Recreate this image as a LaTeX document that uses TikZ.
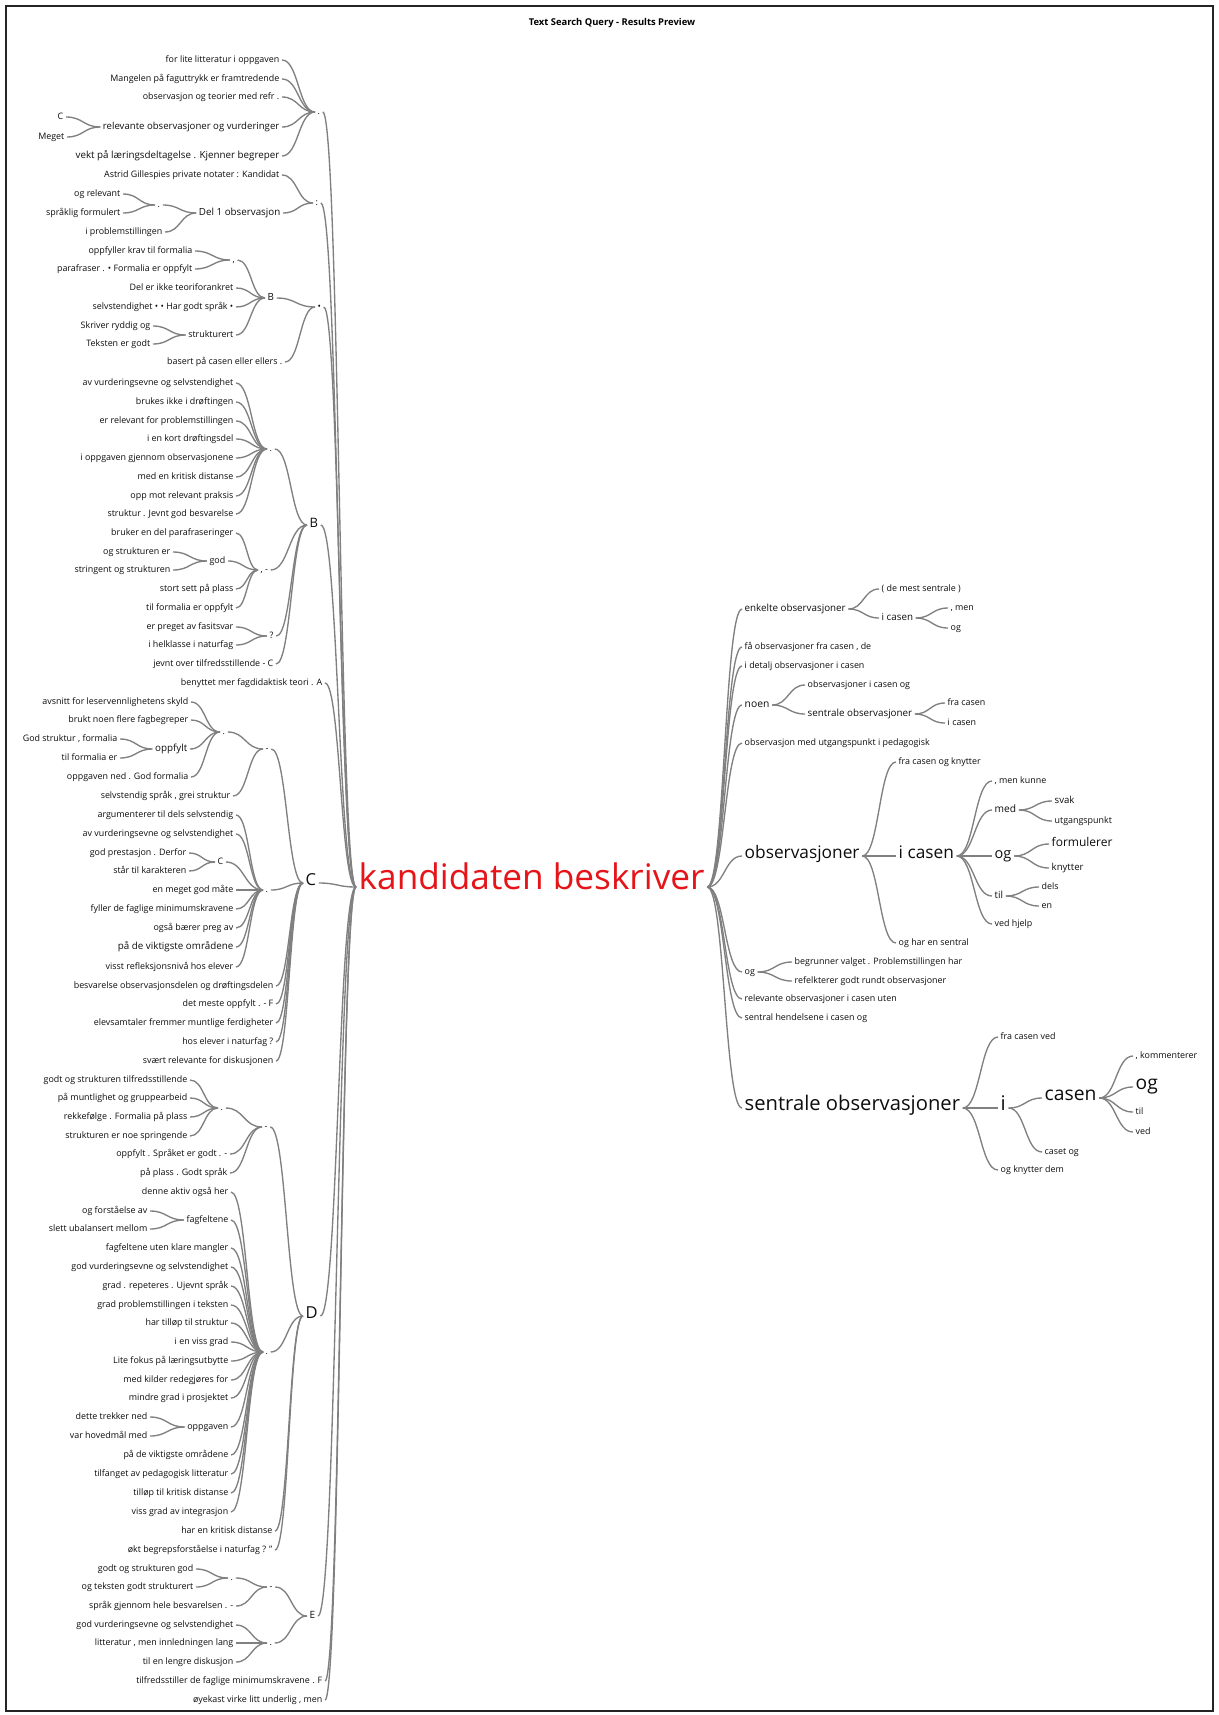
\documentclass[tikz,border=0pt]{standalone}
\usepackage{fontspec}
\setmainfont{Open Sans}
\usepackage{tikz}
\usetikzlibrary{calc}
\definecolor{ink}{rgb}{0.05, 0.05, 0.05}
\definecolor{lgray}{rgb}{0.5, 0.5, 0.5}
\definecolor{kred}{rgb}{0.9, 0.08, 0.1}
\tikzset{leftword/.style = {anchor = mid east, inner xsep = 2.5pt, inner ysep = 1pt, text = ink,
    font = \fontsize{8.9}{10}\selectfont}}
\tikzset{rightword/.style = {anchor = mid west, inner xsep = 2.5pt, inner ysep = 1pt, text = ink,
    font = \fontsize{8.9}{10}\selectfont}}
\tikzset{sz/.style = {font = \fontsize{#1}{#1}\selectfont}}
\tikzset{branch/.style = {draw = lgray, line width = 1.35pt}}
\newcommand{\wlink}[2]{\draw [branch] let \p1 = (#1.mid east), \p2 = (#2.mid west),
  \p3 = ($(\p1)!0.5!(\p2)$) in (\p1) .. controls (\x3, \y1) and (\x3, \y2) .. (\p2);}

\begin{document}
\begin{tikzpicture}[x = 1pt, y = -1pt]
    \useasboundingbox (0, 0) rectangle (1218, 1715);
    \draw [line width = 1.3pt, draw = ink!90] (6, 6) rectangle (1213, 1711);
    \node [font = \bfseries\fontsize{9.4}{10}\selectfont] (title) at (612, 23) {Text Search Query - Results Preview};

    \node [rightword, sz = 35.2, text = kred] (root) at (356, 887) {kandidaten beskriver};

    % left: "." group
    \node [rightword] (p) at (315, 112) {.};
    \node [leftword] (p1) at (282, 60) {for lite litteratur i oppgaven};
    \node [leftword] (p2) at (282, 79) {Mangelen på faguttrykk er framtredende};
    \node [leftword] (p3) at (282, 97) {observasjon og teorier med refr .};
    \node [leftword, sz = 9.6] (p4) at (282, 127) {relevante observasjoner og vurderinger};
    \node [leftword, sz = 9.8] (p5) at (282, 156) {vekt på læringsdeltagelse . Kjenner begreper};
    \node [leftword] (p4a) at (66, 117) {C};
    \node [leftword] (p4b) at (67, 137) {Meget};

    % left: ":" group
    \node [rightword] (q) at (313, 203) {:};
    \node [leftword] (q1) at (282, 175) {Astrid Gillespies private notater : Kandidat};
    \node [leftword, sz = 9.8] (q2) at (283, 213) {Del 1 observasjon};
    \node [rightword] (q2a) at (155, 205) {.};
    \node [leftword] (q2a1) at (123, 194) {og relevant};
    \node [leftword] (q2a2) at (123, 213) {språklig formulert};
    \node [leftword] (q2b) at (165, 232) {i problemstillingen};

    % left: bullet group
    \node [rightword] (s) at (315, 307) {•};
    \node [rightword, sz = 9.8] (s1) at (265, 298) {B};
    \node [rightword] (s1a) at (230, 260) {,};
    \node [leftword] (s1a1) at (195, 251) {oppfyller krav til formalia};
    \node [leftword] (s1a2) at (195, 269) {parafraser . • Formalia er oppfylt};
    \node [leftword] (s1b) at (236, 288) {Del er ikke teoriforankret};
    \node [leftword] (s1c) at (236, 307) {selvstendighet • • Har godt språk •};
    \node [leftword] (s1d) at (236, 335) {strukturert};
    \node [leftword] (s1d1) at (153, 326) {Skriver ryddig og};
    \node [leftword] (s1d2) at (153, 344) {Teksten er godt};
    \node [leftword] (s2) at (285, 362) {basert på casen eller ellers .};

    % left: B group
    \node [rightword, sz = 13] (b) at (307, 525) {B};
    \node [rightword] (b1) at (267, 449) {.};
    \node [leftword] (b1a) at (236, 383) {av vurderingsevne og selvstendighet};
    \node [leftword] (b1b) at (236, 402) {brukes ikke i drøftingen};
    \node [leftword] (b1c) at (236, 421) {er relevant for problemstillingen};
    \node [leftword] (b1d) at (236, 439) {i en kort drøftingsdel};
    \node [leftword] (b1e) at (236, 458) {i oppgaven gjennom observasjonene};
    \node [leftword] (b1f) at (236, 477) {med en kritisk distanse};
    \node [leftword] (b1g) at (236, 496) {opp mot relevant praksis};
    \node [leftword] (b1h) at (236, 514) {struktur . Jevnt god besvarelse};
    \node [rightword] (b2) at (258, 570) {, -};
    \node [leftword] (b2a) at (236, 533) {bruker en del parafraseringer};
    \node [leftword] (b2b) at (228, 561) {god};
    \node [leftword] (b2b1) at (173, 552) {og strukturen er};
    \node [leftword] (b2b2) at (173, 570) {stringent og strukturen};
    \node [leftword] (b2c) at (236, 589) {stort sett på plass};
    \node [leftword] (b2d) at (236, 608) {til formalia er oppfylt};
    \node [rightword] (b3) at (267, 636) {?};
    \node [leftword] (b3a) at (236, 627) {er preget av fasitsvar};
    \node [leftword] (b3b) at (236, 645) {i helklasse i naturfag};
    \node [leftword] (b4) at (276, 664) {jevnt over tilfredsstillende - C};

    \node [leftword] (a) at (325, 683) {benyttet mer fagdidaktisk teori . A};

    % left: C group
    \node [rightword, sz = 16.5] (c) at (303, 883) {C};
    \node [rightword] (c1) at (263, 749) {-};
    \node [rightword] (c1a) at (220, 732) {.};
    \node [leftword] (c1a1) at (191, 702) {avsnitt for leservennlighetens skyld};
    \node [leftword] (c1a2) at (191, 720) {brukt noen flere fagbegreper};
    \node [leftword, sz = 9.8] (c1a3) at (190, 749) {oppfylt};
    \node [leftword] (c1a3a) at (120, 739) {God struktur , formalia};
    \node [leftword] (c1a3b) at (120, 758) {til formalia er};
    \node [leftword] (c1a4) at (191, 777) {oppgaven ned . God formalia};
    \node [leftword] (c1b) at (233, 796) {selvstendig språk , grei struktur};
    \node [rightword] (c2) at (263, 890) {.};
    \node [leftword] (c2a) at (236, 815) {argumenterer til dels selvstendig};
    \node [leftword] (c2b) at (236, 834) {av vurderingsevne og selvstendighet};
    \node [rightword] (c2c) at (215, 862) {C};
    \node [leftword] (c2c1) at (189, 853) {god prestasjon . Derfor};
    \node [leftword] (c2c2) at (189, 871) {står til karakteren};
    \node [leftword] (c2d) at (236, 890) {en meget god måte};
    \node [leftword] (c2e) at (236, 909) {fyller de faglige minimumskravene};
    \node [leftword] (c2f) at (236, 928) {også bærer preg av};
    \node [leftword, sz = 9.8] (c2g) at (236, 947) {på de viktigste områdene};
    \node [leftword] (c2h) at (236, 967) {visst refleksjonsnivå hos elever};
    \node [leftword] (c3) at (276, 986) {besvarelse observasjonsdelen og drøftingsdelen};
    \node [leftword] (c4) at (276, 1004) {det meste oppfylt . - F};
    \node [leftword] (c5) at (276, 1023) {elevsamtaler fremmer muntlige ferdigheter};
    \node [leftword] (c6) at (276, 1042) {hos elever i naturfag ?};
    \node [leftword] (c7) at (276, 1061) {svært relevante for diskusjonen};

    % left: D group
    \node [rightword, sz = 16.5] (d) at (303, 1316) {D};
    \node [rightword] (d1) at (262, 1127) {-};
    \node [rightword] (d1a) at (218, 1108) {.};
    \node [leftword] (d1a1) at (190, 1080) {godt og strukturen tilfredsstillende};
    \node [leftword] (d1a2) at (190, 1098) {på muntlighet og gruppearbeid};
    \node [leftword] (d1a3) at (190, 1117) {rekkefølge . Formalia på plass};
    \node [leftword] (d1a4) at (190, 1136) {strukturen er noe springende};
    \node [leftword] (d1b) at (230, 1154) {oppfylt . Språket er godt . -};
    \node [leftword] (d1c) at (230, 1173) {på plass . Godt språk};
    \node [rightword] (d2) at (263, 1352) {.};
    \node [leftword] (d2a) at (231, 1192) {denne aktiv også her};
    \node [leftword] (d2b) at (231, 1220) {fagfeltene};
    \node [leftword] (d2b1) at (150, 1211) {og forståelse av};
    \node [leftword] (d2b2) at (150, 1229) {slett ubalansert mellom};
    \node [leftword] (d2c) at (231, 1248) {fagfeltene uten klare mangler};
    \node [leftword] (d2d) at (231, 1267) {god vurderingsevne og selvstendighet};
    \node [leftword] (d2e) at (231, 1286) {grad . repeteres . Ujevnt språk};
    \node [leftword] (d2f) at (231, 1305) {grad problemstillingen i teksten};
    \node [leftword] (d2g) at (231, 1323) {har tilløp til struktur};
    \node [leftword] (d2h) at (231, 1342) {i en viss grad};
    \node [leftword] (d2i) at (231, 1361) {Lite fokus på læringsutbytte};
    \node [leftword] (d2j) at (231, 1380) {med kilder redegjøres for};
    \node [leftword] (d2k) at (231, 1398) {mindre grad i prosjektet};
    \node [leftword] (d2l) at (231, 1427) {oppgaven};
    \node [leftword] (d2l1) at (150, 1417) {dette trekker ned};
    \node [leftword] (d2l2) at (150, 1436) {var hovedmål med};
    \node [leftword] (d2m) at (231, 1455) {på de viktigste områdene};
    \node [leftword] (d2n) at (231, 1474) {tilfanget av pedagogisk litteratur};
    \node [leftword] (d2o) at (231, 1493) {tilløp til kritisk distanse};
    \node [leftword] (d2p) at (231, 1512) {viss grad av integrasjon};
    \node [leftword] (d3) at (275, 1531) {har en kritisk distanse};
    \node [leftword] (d4) at (275, 1550) {økt begrepsforståelse i naturfag ? "};

    % left: E group
    \node [rightword, sz = 10] (e) at (307, 1616) {E};
    \node [rightword] (e1) at (267, 1587) {-};
    \node [rightword] (e1a) at (228, 1578) {.};
    \node [leftword] (e1a1) at (196, 1569) {godt og strukturen god};
    \node [leftword] (e1a2) at (196, 1587) {og teksten godt strukturert};
    \node [leftword] (e1b) at (236, 1606) {språk gjennom hele besvarelsen . -};
    \node [rightword] (e2) at (267, 1643) {.};
    \node [leftword] (e2a) at (236, 1625) {god vurderingsevne og selvstendighet};
    \node [leftword] (e2b) at (236, 1643) {litteratur , men innledningen lang};
    \node [leftword] (e2c) at (236, 1662) {til en lengre diskusjon};
    \node [leftword] (f1) at (325, 1681) {tilfredsstiller de faglige minimumskravene . F};
    \node [leftword] (f2) at (325, 1700) {øyekast virke litt underlig , men};

    % right side
    \node [rightword, sz = 9.8] (r1) at (742, 609) {enkelte observasjoner};
    \node [rightword] (r1a) at (879, 589) {( de mest sentrale )};
    \node [rightword, sz = 9.8] (r1b) at (879, 618) {i casen};
    \node [rightword] (r1b1) at (948, 608) {, men};
    \node [rightword] (r1b2) at (948, 628) {og};
    \node [rightword] (r2) at (742, 647) {få observasjoner fra casen , de};
    \node [rightword] (r3) at (742, 666) {i detalj observasjoner i casen};
    \node [rightword, sz = 10.3] (r4) at (742, 705) {noen};
    \node [rightword] (r4a) at (805, 685) {observasjoner i casen og};
    \node [rightword, sz = 9.8] (r4b) at (805, 714) {sentrale observasjoner};
    \node [rightword] (r4b1) at (945, 703) {fra casen};
    \node [rightword] (r4b2) at (945, 723) {i casen};
    \node [rightword] (r5) at (742, 743) {observasjon med utgangspunkt i pedagogisk};
    \node [rightword, sz = 17.3] (r6) at (742, 856) {observasjoner};
    \node [rightword] (r6a) at (896, 762) {fra casen og knytter};
    \node [rightword, sz = 17.3] (r6b) at (896, 856) {i casen};
    \node [rightword] (r6b1) at (992, 781) {, men kunne};
    \node [rightword, sz = 10.2] (r6b2) at (992, 810) {med};
    \node [rightword, sz = 9.6] (r6b2a) at (1052, 801) {svak};
    \node [rightword] (r6b2b) at (1052, 821) {utgangspunkt};
    \node [rightword, sz = 14.5] (r6b3) at (992, 856) {og};
    \node [rightword, sz = 12] (r6b3a) at (1049, 844) {formulerer};
    \node [rightword, sz = 9.6] (r6b3b) at (1049, 868) {knytter};
    \node [rightword, sz = 9.8] (r6b4) at (992, 896) {til};
    \node [rightword] (r6b4a) at (1039, 887) {dels};
    \node [rightword] (r6b4b) at (1039, 906) {en};
    \node [rightword] (r6b5) at (992, 924) {ved hjelp};
    \node [rightword] (r6c) at (896, 943) {og har en sentral};
    \node [rightword] (r7) at (742, 972) {og};
    \node [rightword] (r7a) at (792, 962) {begrunner valget . Problemstillingen har};
    \node [rightword] (r7b) at (792, 981) {refelkterer godt rundt observasjoner};
    \node [rightword] (r8) at (742, 999) {relevante observasjoner i casen uten};
    \node [rightword] (r9) at (742, 1018) {sentral hendelsene i casen og};
    \node [rightword, sz = 20.2] (r10) at (742, 1108) {sentrale observasjoner};
    \node [rightword] (r10a) at (998, 1037) {fra casen ved};
    \node [rightword, sz = 20.2] (r10b) at (998, 1108) {i};
    \node [rightword, sz = 19.3] (r10b1) at (1042, 1098) {casen};
    \node [rightword] (r10b1a) at (1133, 1056) {, kommenterer};
    \node [rightword, sz = 19.2] (r10b1b) at (1133, 1087) {og};
    \node [rightword] (r10b1c) at (1133, 1112) {til};
    \node [rightword] (r10b1d) at (1133, 1132) {ved};
    \node [rightword] (r10b2) at (1042, 1152) {caset og};
    \node [rightword] (r10c) at (998, 1170) {og knytter dem};

    % branches, left
    \foreach \w in {p, q, s, b, a, c, d, e, f1, f2} {\wlink{\w}{root}}
    \foreach \w in {p1, p2, p3, p4, p5} {\wlink{\w}{p}}
    \foreach \w in {p4a, p4b} {\wlink{\w}{p4}}
    \foreach \w in {q1, q2} {\wlink{\w}{q}}
    \foreach \w in {q2a, q2b} {\wlink{\w}{q2}}
    \foreach \w in {q2a1, q2a2} {\wlink{\w}{q2a}}
    \foreach \w in {s1, s2} {\wlink{\w}{s}}
    \foreach \w in {s1a, s1b, s1c, s1d} {\wlink{\w}{s1}}
    \foreach \w in {s1a1, s1a2} {\wlink{\w}{s1a}}
    \foreach \w in {s1d1, s1d2} {\wlink{\w}{s1d}}
    \foreach \w in {b1, b2, b3, b4} {\wlink{\w}{b}}
    \foreach \w in {b1a, b1b, b1c, b1d, b1e, b1f, b1g, b1h} {\wlink{\w}{b1}}
    \foreach \w in {b2a, b2b, b2c, b2d} {\wlink{\w}{b2}}
    \foreach \w in {b2b1, b2b2} {\wlink{\w}{b2b}}
    \foreach \w in {b3a, b3b} {\wlink{\w}{b3}}
    \foreach \w in {c1, c2, c3, c4, c5, c6, c7} {\wlink{\w}{c}}
    \foreach \w in {c1a, c1b} {\wlink{\w}{c1}}
    \foreach \w in {c1a1, c1a2, c1a3, c1a4} {\wlink{\w}{c1a}}
    \foreach \w in {c1a3a, c1a3b} {\wlink{\w}{c1a3}}
    \foreach \w in {c2a, c2b, c2c, c2d, c2e, c2f, c2g, c2h} {\wlink{\w}{c2}}
    \foreach \w in {c2c1, c2c2} {\wlink{\w}{c2c}}
    \foreach \w in {d1, d2, d3, d4} {\wlink{\w}{d}}
    \foreach \w in {d1a, d1b, d1c} {\wlink{\w}{d1}}
    \foreach \w in {d1a1, d1a2, d1a3, d1a4} {\wlink{\w}{d1a}}
    \foreach \w in {d2a, d2b, d2c, d2d, d2e, d2f, d2g, d2h, d2i, d2j, d2k, d2l, d2m, d2n, d2o, d2p} {\wlink{\w}{d2}}
    \foreach \w in {d2b1, d2b2} {\wlink{\w}{d2b}}
    \foreach \w in {d2l1, d2l2} {\wlink{\w}{d2l}}
    \foreach \w in {e1, e2} {\wlink{\w}{e}}
    \foreach \w in {e1a, e1b} {\wlink{\w}{e1}}
    \foreach \w in {e1a1, e1a2} {\wlink{\w}{e1a}}
    \foreach \w in {e2a, e2b, e2c} {\wlink{\w}{e2}}

    % branches, right
    \foreach \w in {r1, r2, r3, r4, r5, r6, r7, r8, r9, r10} {\wlink{root}{\w}}
    \foreach \w in {r1a, r1b} {\wlink{r1}{\w}}
    \foreach \w in {r1b1, r1b2} {\wlink{r1b}{\w}}
    \foreach \w in {r4a, r4b} {\wlink{r4}{\w}}
    \foreach \w in {r4b1, r4b2} {\wlink{r4b}{\w}}
    \foreach \w in {r6a, r6b, r6c} {\wlink{r6}{\w}}
    \foreach \w in {r6b1, r6b2, r6b3, r6b4, r6b5} {\wlink{r6b}{\w}}
    \foreach \w in {r6b2a, r6b2b} {\wlink{r6b2}{\w}}
    \foreach \w in {r6b3a, r6b3b} {\wlink{r6b3}{\w}}
    \foreach \w in {r6b4a, r6b4b} {\wlink{r6b4}{\w}}
    \foreach \w in {r7a, r7b} {\wlink{r7}{\w}}
    \foreach \w in {r10a, r10b, r10c} {\wlink{r10}{\w}}
    \foreach \w in {r10b1, r10b2} {\wlink{r10b}{\w}}
    \foreach \w in {r10b1a, r10b1b, r10b1c, r10b1d} {\wlink{r10b1}{\w}}
  \end{tikzpicture}
\end{document}
